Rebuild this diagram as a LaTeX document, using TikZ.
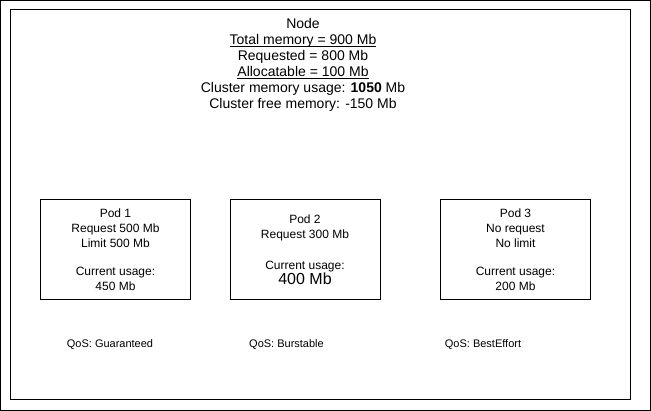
\documentclass[tikz,border=0pt]{standalone}
\usepackage{fontspec}
\setmainfont{Liberation Sans}
\usepackage{tikz}
\usetikzlibrary{positioning}
\newcommand{\memline}[1]{\underline{\smash{#1}}}
\tikzset {
    style Frame/.style={
        draw=black,
        line width=1pt,
        rectangle, % Set the shape as a rectangle
        minimum width=620,
        minimum height=390,
    },
    style Pod/.style={
        draw=black,
        line width=1pt,
        rectangle, % Set the shape as a rectangle
        minimum width=150,
        minimum height=100,
        align=center,
        inner sep=0pt,
        font=\fontsize{12}{15}\selectfont,
    },
    style QoS/.style={
        inner sep=0pt,
        font=\fontsize{11}{13}\selectfont,
    },
}

\begin{document}
\begin{tikzpicture}[x=1pt, y=-1pt]
        \useasboundingbox (0,0) rectangle (651,411);
        \draw[line width=1pt] (0.5,0.5) rectangle (650.5,410.5);

        \node[style Frame] (cluster) at (320,205) {};
        \node[anchor=north, inner sep=0pt, align=center, font=\fontsize{14}{16}\selectfont] (nodeinfo) at (303,18.5)
            {Node\\
             \memline{Total memory = 900 Mb}\\
             Requested = 800 Mb\\
             \memline{Allocatable = 100 Mb}\\
             Cluster memory usage: \textbf{1050} Mb\\
             Cluster free memory: -150 Mb};

        \node[style Pod] (pod1) at (115.5,250)
            {Pod 1\\ Request 500 Mb\\ Limit 500 Mb\\[13pt] Current usage:\\ 450 Mb};
        \node[style Pod] (pod2) at (305,250)
            {Pod 2\\ Request 300 Mb\\[16pt] Current usage:\\ {\fontsize{16}{16}\selectfont 400 Mb}};
        \node[style Pod] (pod3) at (515.5,250)
            {Pod 3\\ No request\\ No limit\\[13pt] Current usage:\\ 200 Mb};

        \node[style QoS] (qos1) at (110,345) {QoS: Guaranteed};
        \node[style QoS] (qos2) at (286.5,345) {QoS: Burstable};
        \node[style QoS] (qos3) at (483,345) {QoS: BestEffort};
\end{tikzpicture}
\end{document}
